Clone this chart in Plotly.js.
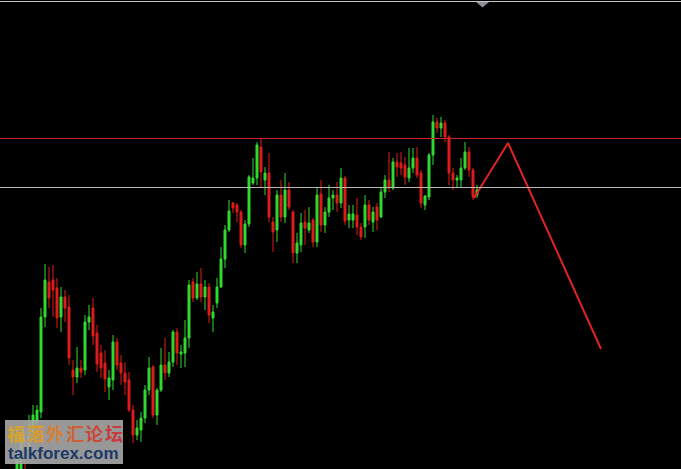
<!DOCTYPE html>
<html>
<head>
<meta charset="utf-8">
<script src="https://cdn.plot.ly/plotly-3.0.1.min.js"></script>
<style>
html,body{margin:0;padding:0;background:#000;}
#chart{width:681px;height:469px;}
</style>
</head>
<body>
<div id="chart"></div>
<script>
// Candle index (one bar per period)
var bars = [];
for (var i = 4; i <= 119; i++) bars.push(i);

var openP  = [20,30,60,50,68,78,88,183,218,220,212,183,203,193,130,123,132,130,178,192,167,147,137,113,120,158,137,127,120,90,65,70,82,110,133,85,110,135,127,138,168,146,147,162,218,202,216,203,213,182,197,213,241,270,297,295,288,255,276,317,322,353,320,327,278,270,305,283,310,288,247,255,278,270,280,258,306,275,288,302,305,297,322,280,280,285,273,273,295,278,293,283,308,320,312,338,337,335,322,332,342,327,295,303,345,378,372,377,363,327,320,320,332,348,330,305];
var highP  = [50,65,68,85,95,95,192,236,233,235,222,213,210,205,140,153,140,185,195,202,175,155,150,130,165,162,145,138,128,95,80,88,115,143,135,112,152,162,148,170,172,155,180,220,222,228,232,220,217,195,222,253,275,300,298,297,290,280,325,342,358,362,333,347,283,310,320,327,318,290,267,287,290,293,282,312,320,293,315,310,318,332,324,295,295,302,277,305,300,293,297,313,325,348,342,347,348,343,352,352,353,330,305,347,385,382,383,380,365,332,325,342,358,353,332,315];
var lowP   = [15,20,28,40,60,72,82,173,192,183,172,168,178,135,105,117,122,125,170,155,128,122,108,100,110,130,115,105,88,57,60,58,77,105,82,75,108,120,123,133,135,132,133,152,198,200,198,190,177,168,192,212,232,268,287,278,252,247,273,315,315,313,305,278,248,258,278,277,290,237,237,248,255,267,253,253,268,267,283,290,288,292,275,272,272,265,260,262,275,268,270,282,302,308,310,323,325,315,318,327,322,292,290,300,335,367,363,358,315,310,313,313,330,323,300,302];
var closeP = [45,60,45,75,85,90,183,220,202,210,182,203,192,142,123,132,128,178,183,164,136,132,121,122,158,135,127,118,90,65,72,82,110,132,85,110,135,127,138,168,147,148,162,215,202,216,203,213,185,188,213,241,270,289,292,288,255,276,323,322,355,328,327,283,268,305,283,310,293,247,257,277,272,277,258,305,275,288,302,305,297,322,279,286,286,273,263,295,280,288,280,308,320,312,338,333,332,323,332,342,325,297,304,345,378,372,377,363,327,320,322,332,348,330,303,310];

// Reference levels and the projected path drawn on the chart
var resistanceLevel = 361.5;
var supportLevel = 312.5;
var pathBars   = [118.25, 126.75, 150];
var pathPrices = [302, 357, 151];

// Watermark text
var wmChars = ["福","落","外","汇","论","坛"];
var wmColors = ["#d8a52c","#d99a2e","#d57f32","#cf6034","#c94a38","#c63b3b"];
var wmSite = "talkforex.com";

var trace = {
  type: "candlestick",
  x: bars, open: openP, high: highP, low: lowP, close: closeP,
  increasing: {line: {color: "#30dc30", width: 1}, fillcolor: "#30dc30"},
  decreasing: {line: {color: "#e01b1b", width: 1}, fillcolor: "#e01b1b"},
  whiskerwidth: 0,
  hoverinfo: "skip"
};

var pathTrace = {
  type: "scatter", mode: "lines",
  x: pathBars, y: pathPrices,
  line: {color: "#e02424", width: 2},
  hoverinfo: "skip"
};

var W = 681, H = 469;
function px(v){ return v / W; }
function py(v){ return 1 - v / H; }

var shapes = [
  {type: "line", xref: "paper", x0: 0, x1: 1, yref: "y", y0: resistanceLevel, y1: resistanceLevel,
   line: {color: "#d02222", width: 1}},
  {type: "line", xref: "paper", x0: 0, x1: 1, yref: "y", y0: supportLevel, y1: supportLevel,
   line: {color: "#b8b8b8", width: 1}},
  {type: "line", xref: "paper", yref: "paper", x0: 0, x1: 1, y0: py(1.5), y1: py(1.5),
   line: {color: "#c8c8c8", width: 1}},
  {type: "path", xref: "paper", yref: "paper",
   path: "M " + px(476) + " " + py(2) + " L " + px(489) + " " + py(2) + " L " + px(482.5) + " " + py(7.5) + " Z",
   fillcolor: "#8a9096", line: {width: 0}},
  {type: "rect", xref: "paper", yref: "paper", x0: px(5), x1: px(123), y0: py(464), y1: py(420),
   fillcolor: "rgba(168,168,168,0.9)", line: {width: 0}, layer: "above"}
];

var annotations = [];
for (var c = 0; c < wmChars.length; c++) {
  annotations.push({
    xref: "paper", yref: "paper", x: px(16 + c * 19.6), y: py(433),
    xanchor: "center", yanchor: "middle", showarrow: false,
    text: "<b>" + wmChars[c] + "</b>",
    font: {family: "Noto Sans CJK SC", size: 18, color: wmColors[c]}
  });
}
annotations.push({
  xref: "paper", yref: "paper", x: px(63), y: py(453),
  xanchor: "center", yanchor: "middle", showarrow: false,
  text: "<b>" + wmSite + "</b>",
  font: {family: "Liberation Sans", size: 17, color: "#1b3a68"}
});

var layout = {
  width: W, height: H,
  margin: {l: 0, r: 0, t: 0, b: 0},
  paper_bgcolor: "#000", plot_bgcolor: "#000",
  showlegend: false,
  boxgap: 0.3,
  xaxis: {range: [-0.25, 170], visible: false, rangeslider: {visible: false}, fixedrange: true},
  yaxis: {range: [31, 500], visible: false, fixedrange: true},
  shapes: shapes,
  annotations: annotations
};

Plotly.newPlot("chart", [trace, pathTrace], layout, {staticPlot: true, displayModeBar: false});
</script>
</body>
</html>
